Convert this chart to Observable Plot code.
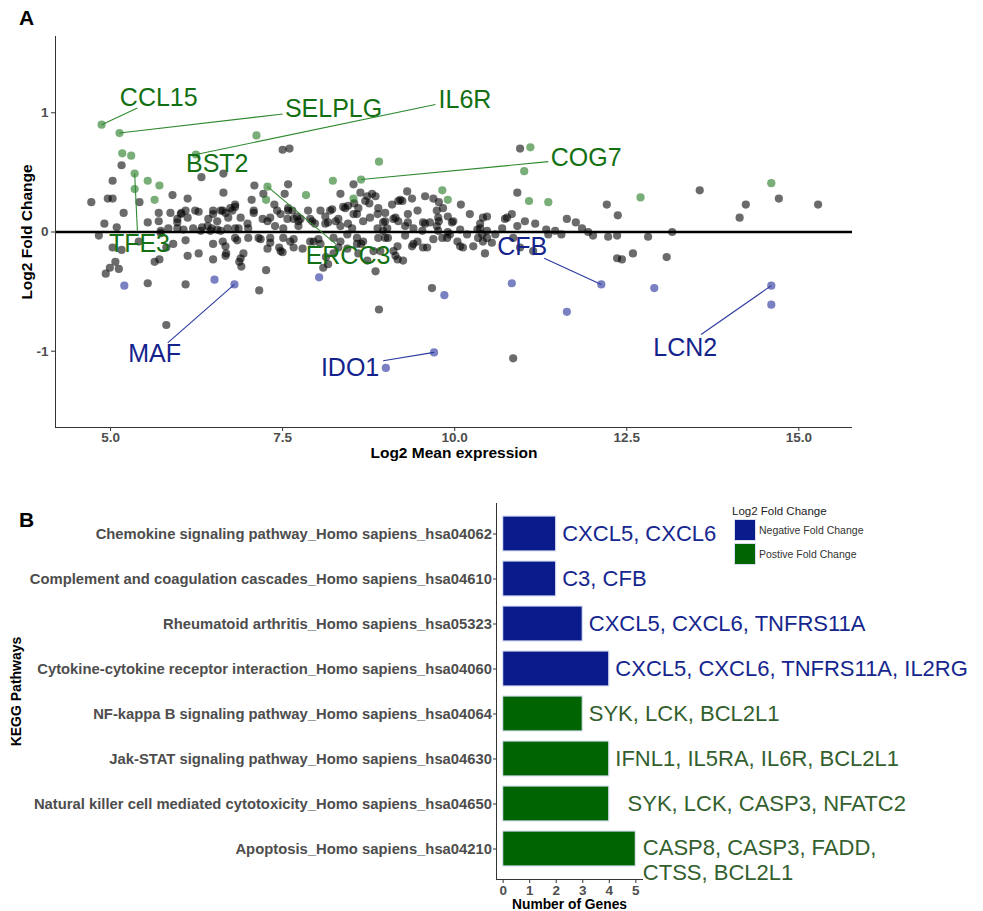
<!DOCTYPE html>
<html>
<head>
<meta charset="utf-8">
<script src="https://cdn.jsdelivr.net/npm/d3@7"></script>
<script src="https://cdn.jsdelivr.net/npm/@observablehq/plot@0.6"></script>
<style>
  html, body { margin: 0; padding: 0; background: #fff; }
  body { font-family: "Liberation Sans", Arial, sans-serif; }
  #wrap { position: relative; width: 983px; height: 911px; overflow: hidden; }
  .panel { position: absolute; left: 0; }
  .tag { position: absolute; font-weight: bold; font-size: 21px; line-height: 21px; color: #000; }
  #legend { position: absolute; left: 732px; top: 503px; color: #222; }
  #legend .ttl { font-size: 11.5px; line-height: 16px; height: 16px; white-space: nowrap; }
  #legend .row { display: flex; align-items: center; height: 22px; margin-bottom: 2px; margin-left: 2px; }
  #legend .key { width: 20px; height: 20px; border: 1px solid #d9def2; }
  #legend .lab { font-size: 10.5px; margin-left: 3px; color: #333; white-space: nowrap; }
</style>
</head>
<body>
<div id="wrap">
  <div id="panelA" class="panel" style="top:0px"></div>
  <div id="panelB" class="panel" style="top:470px"></div>
  <div class="tag" style="left:19px;top:7px">A</div>
  <div class="tag" style="left:19px;top:509px">B</div>
  <div id="legend"></div>
</div>
<script>
// ---------------- Panel A data (MA plot) ----------------
const greyX = [4.72,4.91,4.83,4.96,5.03,5.03,5.09,5.16,5.19,5.42,5.54,5.70,5.70,5.73,5.87,5.90,5.97,6.02,6.06,6.12,
6.12,6.23,6.28,6.32,6.33,6.42,6.47,6.49,6.55,6.60,6.64,6.64,6.74,6.81,6.86,6.99,7.05,7.08,7.09,7.22,
7.28,7.38,7.47,7.50,7.60,7.53,7.58,7.58,7.64,7.66,7.73,7.87,7.93,8.05,8.12,8.22,8.27,8.34,8.41,8.45,
8.53,8.54,8.58,8.63,8.73,8.76,8.85,8.88,8.99,9.09,9.14,9.18,9.24,9.31,9.32,9.38,9.46,9.57,9.57,9.69,
9.74,9.77,9.83,9.98,10.09,10.22,10.37,10.47,
5.84,5.97,6.03,6.09,6.49,6.55,6.41,6.63,5.97,6.20,6.31,6.45,6.60,5.73,5.03,5.16,5.07,4.99,5.12,4.93,
5.64,5.71,5.91,6.12,6.28,6.09,6.49,6.49,6.63,5.54,6.09,5.41,5.81,5.81,6.68,6.84,6.87,6.90,6.89,6.93,
7.16,7.26,7.15,7.32,7.45,7.50,7.51,7.61,7.66,7.79,7.95,8.05,8.13,8.16,8.24,8.31,8.44,8.58,8.64,8.73,
8.85,8.92,9.03,9.11,9.17,9.25,8.90,9.17,9.40,9.54,9.60,9.67,9.69,9.89,10.04,10.18,10.12,10.27,10.40,10.47,
10.54,
7.08,6.77,6.81,6.67,7.42,7.58,7.71,8.19,8.38,8.45,8.60,8.70,8.80,8.89,8.53,8.12,8.31,7.90,7.76,7.57,
7.32,7.21,6.89,6.71,7.00,6.81,7.39,7.51,7.73,7.97,8.16,8.34,8.51,8.67,8.77,8.88,8.96,8.96,6.70,6.81,
6.67,7.00,7.18,7.32,7.28,7.66,7.47,7.90,8.02,8.24,8.34,8.58,8.67,8.89,8.82,8.60,8.44,8.09,6.67,
10.95,10.91,9.21,9.77,9.32,8.99,10.41,10.76,10.83,11.02,11.17,9.11,9.18,9.54,9.64,9.76,9.90,9.96,9.28,9.40,
9.74,10.37,10.69,10.91,9.02,9.53,9.76,9.90,10.08,10.33,10.47,8.99,9.28,9.46,9.38,9.82,9.93,10.08,10.34,10.41,
10.59,10.85,10.44,11.14,9.14,
12.21,12.37,11.63,11.76,11.85,11.94,12.01,12.23,12.36,12.81,13.16,11.33,11.36,11.46,11.55,12.36,12.43,12.59,13.08,13.56,
14.14,14.23,14.71,15.28,10.85,10.73,10.95];
const greyY = [0.25,0.07,-0.03,0.28,0.28,0.43,0.04,0.56,0.16,0.25,0.08,0.16,0.09,0.01,0.16,0.31,0.08,0.15,0.02,0.28,
0.12,0.18,0.17,0.46,0.04,0.11,0.03,0.18,0.02,0.18,0.33,0.49,0.20,0.23,0.03,0.07,0.27,0.18,0.39,0.32,
0.09,0.23,0.15,0.69,0.70,0.32,0.40,0.20,0.18,0.11,0.09,0.18,0.09,0.18,0.07,0.19,0.09,0.32,0.20,0.07,
0.40,0.24,0.15,0.33,0.30,0.24,0.30,0.15,0.09,0.23,0.12,0.26,0.26,0.34,0.08,0.28,0.18,0.30,0.07,0.28,
0.18,0.09,0.20,0.09,0.23,0.15,0.07,0.13,
0.03,0.11,0.16,0.18,0.15,0.09,0.05,0.18,0.03,0.03,0.01,0.01,0.01,-0.01,-0.13,-0.15,-0.25,-0.30,-0.31,-0.35,
-0.25,-0.23,-0.10,-0.20,-0.18,-0.07,-0.23,-0.10,-0.08,-0.43,-0.44,-0.08,-0.78,-0.13,-0.18,-0.07,-0.25,-0.29,-0.22,-0.18,
-0.49,-0.32,-0.05,-0.05,-0.13,-0.17,-0.05,-0.08,-0.13,-0.14,-0.08,-0.10,-0.21,-0.27,-0.18,-0.13,-0.02,-0.10,-0.10,-0.24,
-0.33,-0.16,-0.05,-0.16,-0.23,-0.24,-0.65,-0.12,-0.10,-0.13,-0.13,-0.47,-0.06,-0.05,-0.08,-0.02,-0.13,-0.12,-0.02,-0.05,
-0.09,
0.16,0.18,0.21,0.16,0.18,0.18,0.13,0.18,0.21,0.22,0.20,0.26,0.32,0.20,0.15,0.13,0.11,0.11,0.11,0.11,
0.12,0.11,0.12,0.12,0.03,0.03,0.05,0.03,0.05,0.07,0.08,0.05,0.03,0.09,0.12,0.03,0.08,0.01,0.03,-0.05,
-0.12,-0.05,-0.06,-0.09,-0.14,-0.06,-0.16,-0.08,-0.06,-0.05,-0.08,-0.05,-0.08,-0.05,-0.16,-0.18,-0.14,-0.30,-0.20,
0.70,0.33,0.27,0.25,0.15,0.16,0.12,0.12,0.15,0.09,0.07,0.11,0.09,0.08,0.08,0.12,0.13,0.08,0.05,0.03,
0.05,0.03,0.03,0.05,0.03,0.01,0.01,0.00,0.02,0.02,0.01,-0.05,-0.03,-0.08,-0.12,-0.05,-0.02,-0.12,-0.05,-0.08,
-0.02,-0.05,-0.18,-0.16,-0.20,
0.23,0.14,0.11,0.08,0.03,0.00,-0.03,-0.04,-0.03,-0.04,0.00,0.02,-0.02,0.01,-0.02,-0.22,-0.23,-0.18,-0.21,0.35,
0.12,0.23,0.28,0.23,-1.06,0.11,-0.13];

const upX = [4.87,5.13,5.17,5.30,5.35,5.35,5.54,5.71,5.64,6.24,7.12,7.28,7.26,7.84,8.23,8.90,8.64,8.53,9.82,9.90,11.10,11.01,11.08,11.36,12.70,14.60];
const upY = [0.90,0.83,0.66,0.64,0.49,0.36,0.43,0.39,0.27,0.65,0.81,0.38,0.27,0.31,0.43,0.59,0.44,0.28,0.35,0.27,0.71,0.51,0.26,0.25,0.29,0.41];

const downX = [5.20,6.51,6.80,8.03,9.70,9.00,9.85,10.83,12.13,12.90,11.63,14.60,14.60];
const downY = [-0.45,-0.40,-0.44,-0.38,-1.01,-1.14,-0.53,-0.43,-0.44,-0.47,-0.67,-0.45,-0.61];

const labelGenes = ["CCL15","SELPLG","IL6R","BST2","COG7","TFE3","ERCC3","CFB","MAF","IDO1","LCN2"];
const labelGroup = ["up","up","up","up","up","up","up","down","down","down","down"];
const labelTextX = [5.70,8.24,10.15,6.55,11.91,5.42,8.45,10.98,5.64,8.48,13.35];
const labelTextY = [1.12,1.035,1.11,0.57,0.62,-0.10,-0.20,-0.13,-1.02,-1.14,-0.97];
const segFromX = [5.39,7.50,9.72,null,11.36,5.39,8.27,11.30,5.83,8.96,13.58];
const segFromY = [1.04,0.99,1.07,null,0.59,0.01,-0.10,-0.22,-0.93,-1.08,-0.86];
const segToX   = [4.87,5.13,6.24,null,8.64,5.35,7.28,12.13,6.80,9.70,14.60];
const segToY   = [0.90,0.83,0.65,null,0.44,0.49,0.38,-0.44,-0.44,-1.01,-0.45];

const xTicksA = [5, 7.5, 10, 12.5, 15];
const yTicksA = [-1, 0, 1];

// ---------------- Panel B data (KEGG) ----------------
const pathways = [
  "Chemokine signaling pathway_Homo sapiens_hsa04062",
  "Complement and coagulation cascades_Homo sapiens_hsa04610",
  "Rheumatoid arthritis_Homo sapiens_hsa05323",
  "Cytokine-cytokine receptor interaction_Homo sapiens_hsa04060",
  "NF-kappa B signaling pathway_Homo sapiens_hsa04064",
  "Jak-STAT signaling pathway_Homo sapiens_hsa04630",
  "Natural killer cell mediated cytotoxicity_Homo sapiens_hsa04650",
  "Apoptosis_Homo sapiens_hsa04210"
];
const geneCounts = [2, 2, 3, 4, 3, 4, 4, 5];
const directionLevels = ["Negative Fold Change", "Postive Fold Change"];
const foldDirection = ["Negative Fold Change","Negative Fold Change","Negative Fold Change","Negative Fold Change",
  "Postive Fold Change","Postive Fold Change","Postive Fold Change","Postive Fold Change"];
const geneLabels = [
  "CXCL5, CXCL6",
  "C3, CFB",
  "CXCL5, CXCL6, TNFRS11A",
  "CXCL5, CXCL6, TNFRS11A, IL2RG",
  "SYK, LCK, BCL2L1",
  "IFNL1, IL5RA, IL6R, BCL2L1",
  "\u00a0\u00a0SYK, LCK, CASP3, NFATC2",
  "CASP8, CASP3, FADD,\nCTSS, BCL2L1"
];
const xTicksB = [0, 1, 2, 3, 4, 5];

// ---------------- styles ----------------
const FONT = '"Liberation Sans", Arial, Helvetica, sans-serif';
const GREEN_PT = "#0b6b0b", BLUE_PT = "#0d1a8f";
const GREEN_TXT = "#127012", BLUE_TXT = "#14238c";
const BAR_NEG = "#0a1c8c", BAR_POS = "#006400";
const TXT_NEG = "#15268e", TXT_POS = "#33602e";

// ---------------- build Panel A ----------------
const grey = greyX.map((x, i) => ({x, y: greyY[i]}));
const ups = upX.map((x, i) => ({x, y: upY[i]}));
const downs = downX.map((x, i) => ({x, y: downY[i]}));
const labels = labelGenes.map((g, i) => ({
  gene: g, group: labelGroup[i], tx: labelTextX[i], ty: labelTextY[i],
  x1: segFromX[i], y1: segFromY[i], x2: segToX[i], y2: segToY[i]
}));
const segs = labels.filter(d => d.x1 != null);

const xDomA = [4.2, 15.78], yDomA = [-1.64, 1.64];

const plotA = Plot.plot({
  width: 983, height: 470,
  marginLeft: 55, marginRight: 131, marginTop: 36, marginBottom: 43,
  style: {fontFamily: FONT, background: "white"},
  x: {domain: xDomA},
  y: {domain: yDomA},
  marks: [
    Plot.dot(grey, {x: "x", y: "y", r: 4.1, fill: "black", fillOpacity: 0.58}),
    Plot.dot(ups, {x: "x", y: "y", r: 4.1, fill: GREEN_PT, fillOpacity: 0.55}),
    Plot.dot(downs, {x: "x", y: "y", r: 4.1, fill: BLUE_PT, fillOpacity: 0.55}),
    Plot.ruleY([0], {stroke: "black", strokeWidth: 2.6}),
    Plot.link(segs.filter(d => d.group === "up"), {x1: "x1", y1: "y1", x2: "x2", y2: "y2", stroke: "#2f8a2f", strokeWidth: 1.1}),
    Plot.link(segs.filter(d => d.group === "down"), {x1: "x1", y1: "y1", x2: "x2", y2: "y2", stroke: "#2b3a9e", strokeWidth: 1.1}),
    Plot.text(labels.filter(d => d.group === "up"), {x: "tx", y: "ty", text: "gene", fill: GREEN_TXT, fontSize: 25}),
    Plot.text(labels.filter(d => d.group === "down"), {x: "tx", y: "ty", text: "gene", fill: BLUE_TXT, fontSize: 25}),
    Plot.ruleX([xDomA[0]], {stroke: "#333", strokeWidth: 1}),
    Plot.ruleY([yDomA[0]], {stroke: "#333", strokeWidth: 1}),
    Plot.axisX({ticks: xTicksA, tickFormat: d => d.toFixed(1), tickSize: 4, tickPadding: 1,
      fontSize: 13.5, fontWeight: "bold", fill: "#4d4d4d", stroke: "#333", label: null}),
    Plot.axisY({ticks: yTicksA, tickFormat: d => String(d), tickSize: 4, tickPadding: 3,
      fontSize: 13.5, fontWeight: "bold", fill: "#4d4d4d", stroke: "#333", label: null}),
    Plot.text(["Log2 Mean expression"], {text: d => d, frameAnchor: "bottom", textAnchor: "middle",
      lineAnchor: "middle", dy: 26, fontSize: 15.5, fontWeight: "bold", fill: "black"}),
    Plot.text(["Log2 Fold Change"], {text: d => d, frameAnchor: "left", textAnchor: "middle",
      lineAnchor: "middle", dx: -28, rotate: -90, fontSize: 15.5, fontWeight: "bold", fill: "black"})
  ]
});
document.getElementById("panelA").appendChild(plotA);

// ---------------- build Panel B ----------------
const kegg = pathways.map((p, i) => ({pathway: p, count: geneCounts[i], dir: foldDirection[i], genes: geneLabels[i]}));
const single = kegg.filter(d => !d.genes.includes("\n"));
const multi = kegg.filter(d => d.genes.includes("\n"));
const xDomB = [-0.25, 5.25];

const plotB = Plot.plot({
  width: 983, height: 441,
  marginLeft: 496, marginRight: 341, marginTop: 33, marginBottom: 32,
  style: {fontFamily: FONT, background: "white"},
  x: {domain: xDomB},
  y: {domain: pathways, padding: 0.22},
  color: {domain: directionLevels, range: [BAR_NEG, BAR_POS]},
  marks: [
    Plot.barX(kegg, {x1: 0, x2: "count", y: "pathway", fill: "dir", stroke: "#dde2f3", strokeWidth: 1.2}),
    Plot.text(single.filter(d => d.dir === directionLevels[0]), {x: "count", y: "pathway", text: "genes",
      textAnchor: "start", dx: 6, fontSize: 22, fill: TXT_NEG}),
    Plot.text(single.filter(d => d.dir === directionLevels[1]), {x: "count", y: "pathway", text: "genes",
      textAnchor: "start", dx: 6, fontSize: 22, fill: TXT_POS}),
    Plot.text(multi, {x: "count", y: "pathway", text: "genes", textAnchor: "start", dx: 7, dy: 10,
      lineHeight: 1.14, fontSize: 22, fill: TXT_POS}),
    Plot.ruleX([xDomB[0]], {stroke: "#333", strokeWidth: 1}),
    Plot.frame({anchor: "bottom", stroke: "#333", strokeWidth: 1}),
    Plot.axisY({tickSize: 3, tickPadding: 1.5, fontSize: 14.8, fontWeight: "bold",
      fill: "#4d4d4d", stroke: "#333", label: null}),
    Plot.axisX({ticks: xTicksB, tickFormat: d => String(d), tickSize: 4, tickPadding: 1.5, fontSize: 13.5,
      fontWeight: "bold", fill: "#4d4d4d", stroke: "#333", label: null}),
    Plot.text(["Number of Genes"], {text: d => d, frameAnchor: "bottom", textAnchor: "middle",
      lineAnchor: "middle", dy: 25, fontSize: 13.8, fontWeight: "bold", fill: "black"}),
    Plot.text(["KEGG Pathways"], {text: d => d, frameAnchor: "left", textAnchor: "middle",
      lineAnchor: "middle", dx: -480, rotate: -90, fontSize: 14, fontWeight: "bold", fill: "black"})
  ]
});
document.getElementById("panelB").appendChild(plotB);

// ---------------- legend (HTML) ----------------
const legendColors = [BAR_NEG, BAR_POS];
const lg = document.getElementById("legend");
let html = '<div class="ttl">Log2 Fold Change</div>';
directionLevels.forEach((lvl, i) => {
  html += `<div class="row"><div class="key" style="background:${legendColors[i]}"></div><div class="lab">${lvl}</div></div>`;
});
lg.innerHTML = html;
</script>
</body>
</html>
